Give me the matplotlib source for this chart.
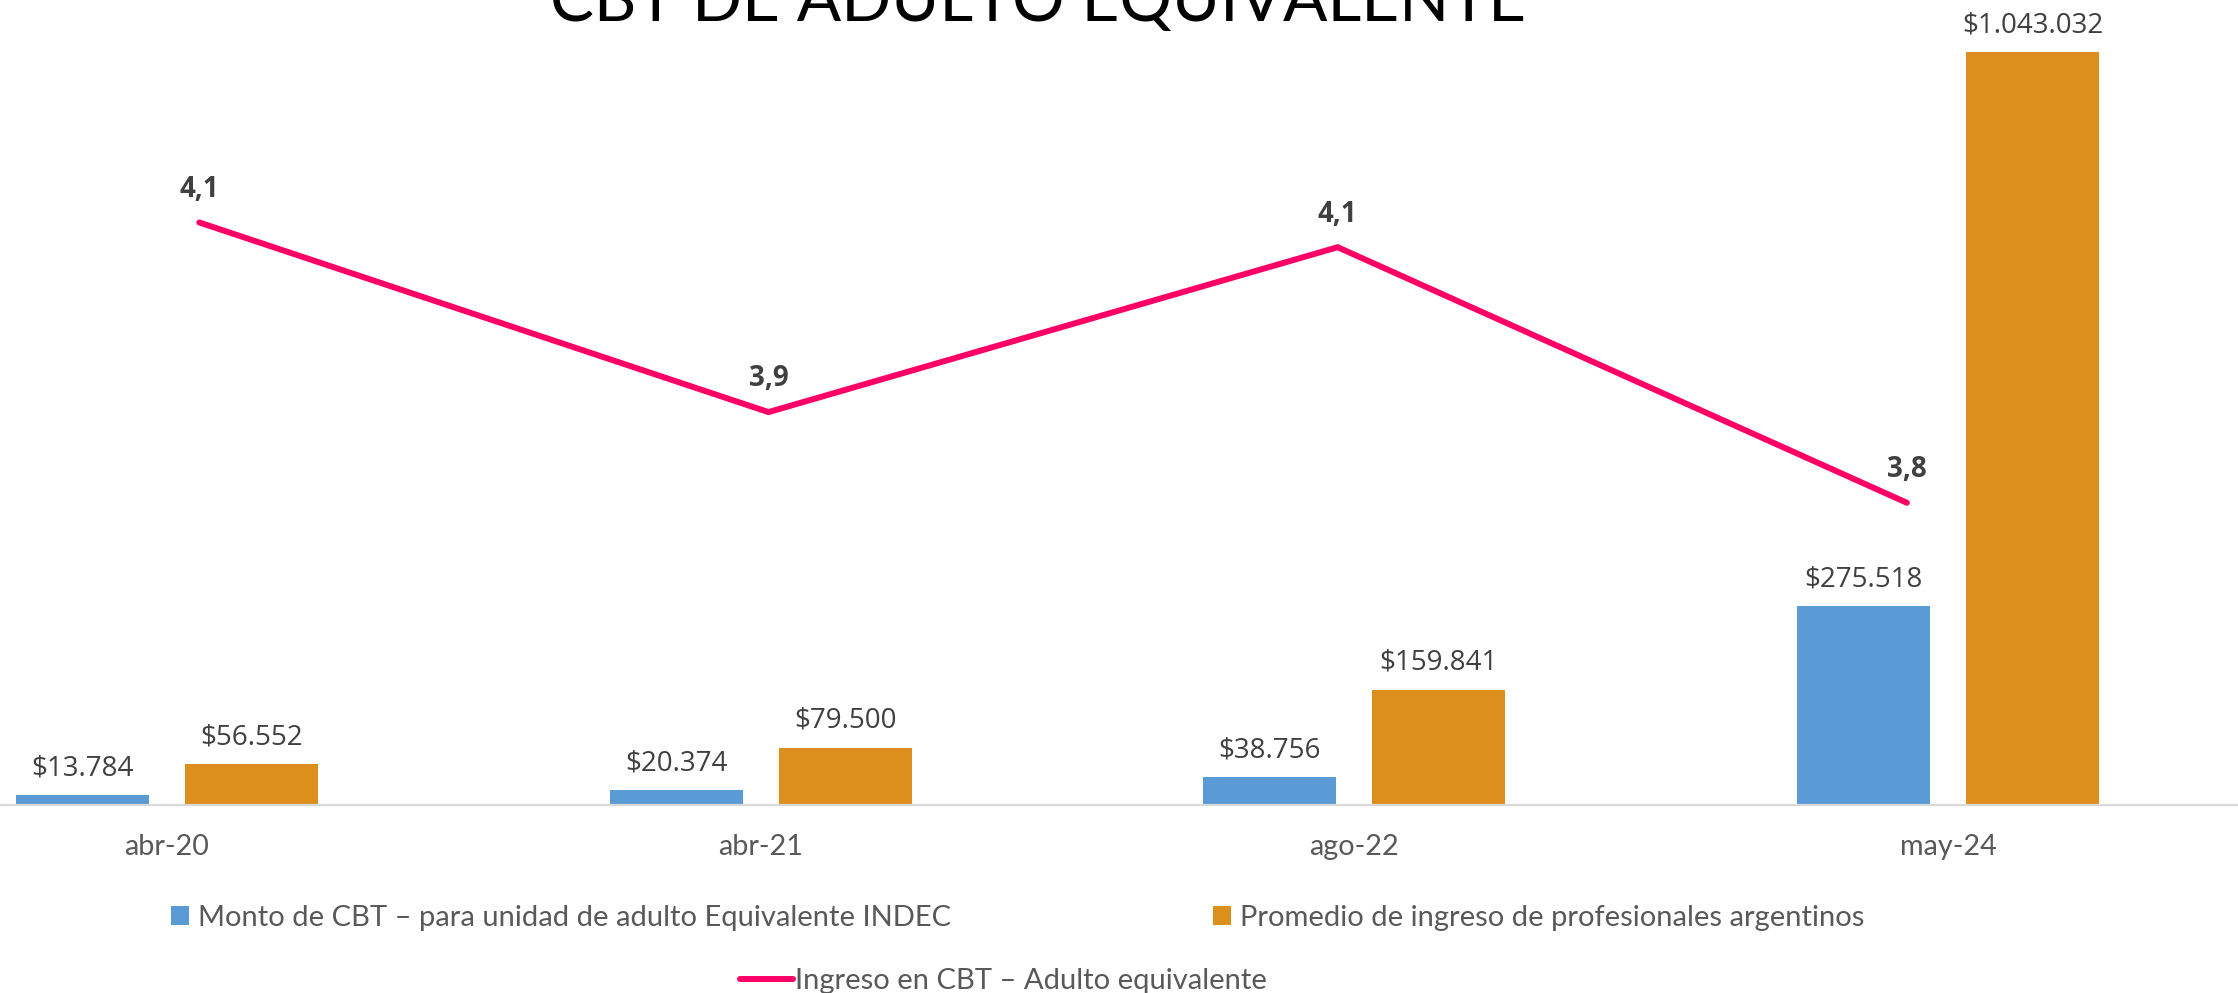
import matplotlib
matplotlib.use("Agg")
import matplotlib.pyplot as plt
from matplotlib.patches import Patch
from matplotlib.lines import Line2D

# ---- data ----
categories = ["abr-20", "abr-21", "ago-22", "may-24"]
cbt_indec = [13784, 20374, 38756, 275518]
ingreso_prof = [56552, 79500, 159841, 1043032]
ratio_cbt = [4.13, 3.90, 4.10, 3.79]
ratio_labels = ["4,1", "3,9", "4,1", "3,8"]
title = "CBT DE ADULTO EQUIVALENTE"
legend_labels = ["Monto de CBT – para unidad de adulto Equivalente INDEC",
                 "Promedio de ingreso de profesionales argentinos",
                 "Ingreso en CBT – Adulto equivalente"]

def money(v):
    return "$" + f"{v:,}".replace(",", ".")

W, H = 2238, 993
fig = plt.figure(figsize=(W / 100, H / 100), dpi=100)
fig.patch.set_facecolor("white")

blue = "#5B9BD5"
orange = "#DC8F1C"
pink = "#FF0066"
label_col = "#404040"
axis_col = "#595959"

base_px = 805
rect = [0, 1 - base_px / H, 1, base_px / H]
ax = fig.add_axes(rect)
ax.set_xlim(-0.2813, 3.4885)
ax.set_ylim(0, 1115500)

x = list(range(len(categories)))
bw = 0.224
off = 0.1423
b1 = ax.bar([i - off for i in x], cbt_indec, width=bw, color=blue, zorder=2)
b2 = ax.bar([i + off for i in x], ingreso_prof, width=bw, color=orange, zorder=2)

for bars, vals in ((b1, cbt_indec), (b2, ingreso_prof)):
    for r, v in zip(bars, vals):
        ax.annotate(money(v), (r.get_x() + r.get_width() / 2, v),
                    xytext=(0, 14.4), textcoords="offset points",
                    ha="center", va="baseline", fontsize=20,
                    family="Open Sans", color=label_col)

for s in ("top", "left", "right"):
    ax.spines[s].set_visible(False)
ax.spines["bottom"].set_color("#D9D9D9")
ax.spines["bottom"].set_linewidth(1.6)
ax.set_yticks([])
ax.set_xticks(x)
ax.set_xticklabels(categories, fontsize=20.7, family="Lato", color=axis_col)
ax.tick_params(axis="x", length=0, pad=21)
ax.patch.set_alpha(0)

# secondary axes for line
ax2 = fig.add_axes(rect, frameon=False)
ax2.set_xlim(-0.3501, 3.5817)
ax2.set_ylim(3.4235, 4.3998)
ax2.plot(x, ratio_cbt, color=pink, lw=4.3, solid_capstyle="round",
         solid_joinstyle="miter", zorder=3)
for xi, v, t in zip(x, ratio_cbt, ratio_labels):
    ax2.annotate(t, (xi, v), xytext=(0, 18.5), textcoords="offset points",
                 ha="center", va="baseline", fontsize=20, fontweight="bold",
                 family="Open Sans", color=label_col)
ax2.set_xticks([])
ax2.set_yticks([])

# title (partially cut at top as in the reference)
fig.text(1038.5 / W, 1 - 21 / H, title, ha="center", va="baseline",
         fontsize=47.3, family="Lato", fontweight="normal", color="black")

# legends
fs_leg = 21
h1 = Patch(facecolor=blue)
h2 = Patch(facecolor=orange)
h3 = Line2D([0], [0], color=pink, lw=4.3, solid_capstyle="round")
common = dict(frameon=False, borderpad=0, borderaxespad=0,
              prop={"family": "Lato", "size": fs_leg}, labelcolor=axis_col)
fig.legend([h1], [legend_labels[0]], loc="center left",
           bbox_to_anchor=(171 / W, 1 - 918 / H), handlelength=0.62,
           handleheight=0.62, handletextpad=0.3, **common)
fig.legend([h2], [legend_labels[1]], loc="center left",
           bbox_to_anchor=(1213 / W, 1 - 918 / H), handlelength=0.62,
           handleheight=0.62, handletextpad=0.3, **common)
fig.legend([h3], [legend_labels[2]], loc="center left",
           bbox_to_anchor=(740 / W, 1 - 981 / H), handlelength=1.8,
           handletextpad=0.1, **common)

fig.savefig("out.png", dpi=100, facecolor="white")
